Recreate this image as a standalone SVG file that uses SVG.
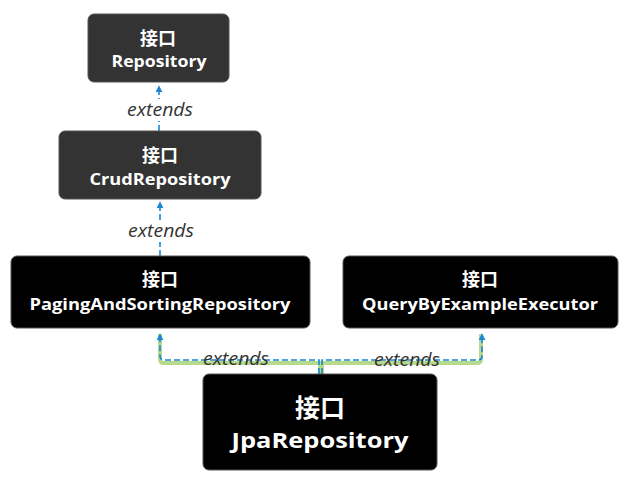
<svg xmlns="http://www.w3.org/2000/svg" width="632" height="477" viewBox="0 0 632 477">
<style>
.box{stroke:#555;stroke-width:1}
.t{fill:#fff;font-family:"Open Sans","Noto Sans CJK SC",sans-serif;font-weight:bold;text-anchor:middle}
.lbl{fill:#333;font-family:"Open Sans","Liberation Sans",sans-serif;font-style:italic;font-size:18px;text-anchor:middle}
.c{fill:none;stroke:#1a86d6;stroke-width:1.6;stroke-dasharray:6,3}
.g{fill:none;stroke:#b6d98c;stroke-width:4;stroke-linejoin:round}
</style>
<defs>
<marker id="ah" viewBox="0 0 10 10" refX="9" refY="5" markerWidth="7" markerHeight="7" orient="auto" markerUnits="userSpaceOnUse">
<path d="M0,0L10,5L0,10z" fill="#1a86d6"/>
</marker>
</defs>
<rect width="632" height="477" fill="#fff"/>
<g id="connectors">
<path class="g" d="M320,374V363H164Q160,363 160,359V334"/>
<path class="g" d="M322,374V363H477Q481,363 481,359V334"/>
<path class="c" d="M319,374V360H164Q160,360 160,356V334" marker-end="url(#ah)"/>
<path class="c" d="M322,374V360H478Q482,360 482,356V334" marker-end="url(#ah)"/>
<path class="c" d="M159,131V86" marker-end="url(#ah)"/>
<path class="c" d="M160,256V202" marker-end="url(#ah)"/>
<rect x="124" y="99" width="72" height="22" fill="#fff"/>
<text class="lbl" x="160" y="116" textLength="66" lengthAdjust="spacingAndGlyphs">extends</text>
<rect x="124" y="220" width="72" height="22" fill="#fff"/>
<text class="lbl" x="161" y="237" textLength="66" lengthAdjust="spacingAndGlyphs">extends</text>
<text class="lbl" x="236" y="365" textLength="66" lengthAdjust="spacingAndGlyphs">extends</text>
<text class="lbl" x="407" y="366" textLength="66" lengthAdjust="spacingAndGlyphs">extends</text>
</g>
<g id="n-repository">
<rect class="box" x="88" y="14" width="141" height="68" rx="6" fill="#333"/>
<text class="t" x="158" y="45" font-size="18">接口</text>
<text class="t" x="159" y="67" font-size="16" textLength="95" lengthAdjust="spacingAndGlyphs">Repository</text>
</g>
<g id="n-crud">
<rect class="box" x="59" y="131" width="202" height="68" rx="6" fill="#333"/>
<text class="t" x="160" y="162" font-size="18">接口</text>
<text class="t" x="160" y="185" font-size="16" textLength="141" lengthAdjust="spacingAndGlyphs">CrudRepository</text>
</g>
<g id="n-paging">
<rect class="box" x="11" y="256" width="299" height="72" rx="6" fill="#000"/>
<text class="t" x="160" y="286" font-size="18">接口</text>
<text class="t" x="160" y="310" font-size="16" textLength="261" lengthAdjust="spacingAndGlyphs">PagingAndSortingRepository</text>
</g>
<g id="n-query">
<rect class="box" x="343" y="256" width="275" height="72" rx="6" fill="#000"/>
<text class="t" x="480" y="286" font-size="18">接口</text>
<text class="t" x="480" y="310" font-size="16" textLength="236" lengthAdjust="spacingAndGlyphs">QueryByExampleExecutor</text>
</g>
<g id="n-jpa">
<rect class="box" x="203" y="374" width="234" height="96" rx="6" fill="#000"/>
<text class="t" x="320" y="417" font-size="25">接口</text>
<text class="t" x="320" y="448" font-size="22" textLength="177" lengthAdjust="spacingAndGlyphs">JpaRepository</text>
</g>
</svg>
